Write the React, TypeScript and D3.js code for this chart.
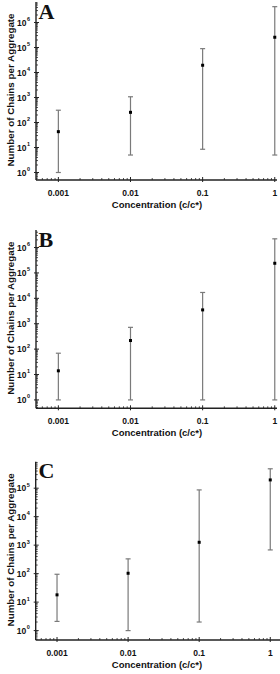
import React from "react";
import * as d3 from "d3";

const concentrations = [0.001, 0.01, 0.1, 1];
const xTickLabels = ["0.001", "0.01", "0.1", "1"];

const meanA = [43, 255, 19500, 257000];
const upperA = [310, 1070, 90000, 4300000];
const lowerA = [1, 5, 8.5, 5];

const meanB = [14, 218, 3500, 240000];
const upperB = [69, 720, 17000, 2200000];
const lowerB = [1, 1, 1, 1];

const meanC = [18, 103, 1260, 195000];
const upperC = [95, 330, 87000, 480000];
const lowerC = [2.1, 1, 2, 680];

const yExpA = [0, 1, 2, 3, 4, 5, 6];
const yExpB = [0, 1, 2, 3, 4, 5, 6];
const yExpC = [0, 1, 2, 3, 4, 5];

const xTitle = "Concentration (c/c*)";
const yTitle = "Number of Chains per Aggregate";

const FONT = "'Liberation Sans', Arial, sans-serif";
const AXIS = "#222";
const BAR = "#7a7a7a";

type PanelProps = {
  letter: string;
  mean: number[];
  upper: number[];
  lower: number[];
  yExp: number[];
  xRange: [number, number];
  xDomain: [number, number];
  yRange: [number, number];
  yDomain: [number, number];
  letterY: number;
};

function Panel(p: PanelProps) {
  const x = d3.scaleLog().domain(p.xDomain).range(p.xRange);
  const y = d3.scaleLog().domain(p.yDomain).range(p.yRange);
  const [x0, x1] = p.xRange;
  const [yb, yt] = p.yRange;

  const xMinor: number[] = [];
  for (let e = -4; e <= 1; e++) {
    for (let k = 2; k <= 9; k++) {
      const v = k * Math.pow(10, e);
      if (v > p.xDomain[0] && v < p.xDomain[1]) xMinor.push(v);
    }
  }
  const yMinor: number[] = [];
  for (let e = -1; e <= 7; e++) {
    for (let k = 2; k <= 9; k++) {
      const v = k * Math.pow(10, e);
      if (v > p.yDomain[0] && v < p.yDomain[1]) yMinor.push(v);
    }
  }

  return (
    <g>
      <line x1={x0} x2={x1} y1={yb} y2={yb} stroke={AXIS} strokeWidth={1.4} />
      <line x1={x0} x2={x0} y1={yb} y2={yt} stroke={AXIS} strokeWidth={1.4} />
      {xMinor.map((v, i) => (
        <line key={"xm" + i} x1={x(v)} x2={x(v)} y1={yb} y2={yb - 2} stroke={AXIS} strokeWidth={0.8} />
      ))}
      {yMinor.map((v, i) => (
        <line key={"ym" + i} x1={x0} x2={x0 + 2} y1={y(v)} y2={y(v)} stroke={AXIS} strokeWidth={0.8} />
      ))}
      {concentrations.map((c, i) => (
        <g key={"xt" + i}>
          <line x1={x(c)} x2={x(c)} y1={yb - 3} y2={yb + 2} stroke={AXIS} strokeWidth={1} />
          <text x={x(c)} y={yb + 15.5} textAnchor="middle" fontFamily={FONT} fontWeight="bold" fontSize={8.5} fill="#111">
            {xTickLabels[i]}
          </text>
        </g>
      ))}
      {p.yExp.map((e) => (
        <g key={"yt" + e}>
          <line x1={x0 - 2} x2={x0 + 3} y1={y(Math.pow(10, e))} y2={y(Math.pow(10, e))} stroke={AXIS} strokeWidth={1} />
          <text x={x0 - 9.5} y={y(Math.pow(10, e)) + 3} textAnchor="end" fontFamily={FONT} fontWeight="bold" fontSize={8.5} fill="#111">
            10
          </text>
          <text x={x0 - 9} y={y(Math.pow(10, e)) - 1.5} textAnchor="start" fontFamily={FONT} fontWeight="bold" fontSize={5.5} fill="#111">
            {e}
          </text>
        </g>
      ))}
      <text x={157} y={yb + 27.5} textAnchor="middle" fontFamily={FONT} fontWeight="bold" fontSize={9.5} fill="#111">
        {xTitle}
      </text>
      <text
        transform={`translate(14,${(yb + yt) / 2 - 1}) rotate(-90)`}
        textAnchor="middle"
        fontFamily={FONT}
        fontWeight="bold"
        fontSize={9.8}
        fill="#111"
      >
        {yTitle}
      </text>
      <text x={38.5} y={p.letterY} fontFamily="'Liberation Serif', 'Times New Roman', serif" fontWeight="bold" fontSize={22} fill="#111">
        {p.letter}
      </text>
      {concentrations.map((c, i) => {
        const cx = x(c);
        return (
          <g key={"d" + i}>
            <line x1={cx} x2={cx} y1={y(p.lower[i])} y2={y(p.upper[i])} stroke={BAR} strokeWidth={1.2} />
            <line x1={cx - 2.5} x2={cx + 2.5} y1={y(p.lower[i])} y2={y(p.lower[i])} stroke={BAR} strokeWidth={1.2} />
            <line x1={cx - 2.5} x2={cx + 2.5} y1={y(p.upper[i])} y2={y(p.upper[i])} stroke={BAR} strokeWidth={1.2} />
            <rect x={cx - 1.5} y={y(p.mean[i]) - 1.5} width={3} height={3} fill="#000" />
          </g>
        );
      })}
    </g>
  );
}

export default function App() {
  return (
    <svg width={280} height={674} style={{ position: "absolute", left: 0, top: 0, background: "#fff" }}>
      <rect width={280} height={674} fill="#fff" />
      <Panel
        letter="A"
        mean={meanA}
        upper={upperA}
        lower={lowerA}
        yExp={yExpA}
        xRange={[36, 277]}
        xDomain={[Math.pow(10, -3.31), Math.pow(10, 0.031)]}
        yRange={[180, 2]}
        yDomain={[Math.pow(10, -0.3), Math.pow(10, 6.82)]}
        letterY={18.5}
      />
      <Panel
        letter="B"
        mean={meanB}
        upper={upperB}
        lower={lowerB}
        yExp={yExpB}
        xRange={[36, 277]}
        xDomain={[Math.pow(10, -3.31), Math.pow(10, 0.031)]}
        yRange={[408.3, 230]}
        yDomain={[Math.pow(10, -0.33), Math.pow(10, 6.69)]}
        letterY={247}
      />
      <Panel
        letter="C"
        mean={meanC}
        upper={upperC}
        lower={lowerC}
        yExp={yExpC}
        xRange={[35.7, 280]}
        xDomain={[Math.pow(10, -3.3), Math.pow(10, 0.137)]}
        yRange={[640, 461.7]}
        yDomain={[Math.pow(10, -0.33), Math.pow(10, 5.93)]}
        letterY={478}
      />
    </svg>
  );
}
